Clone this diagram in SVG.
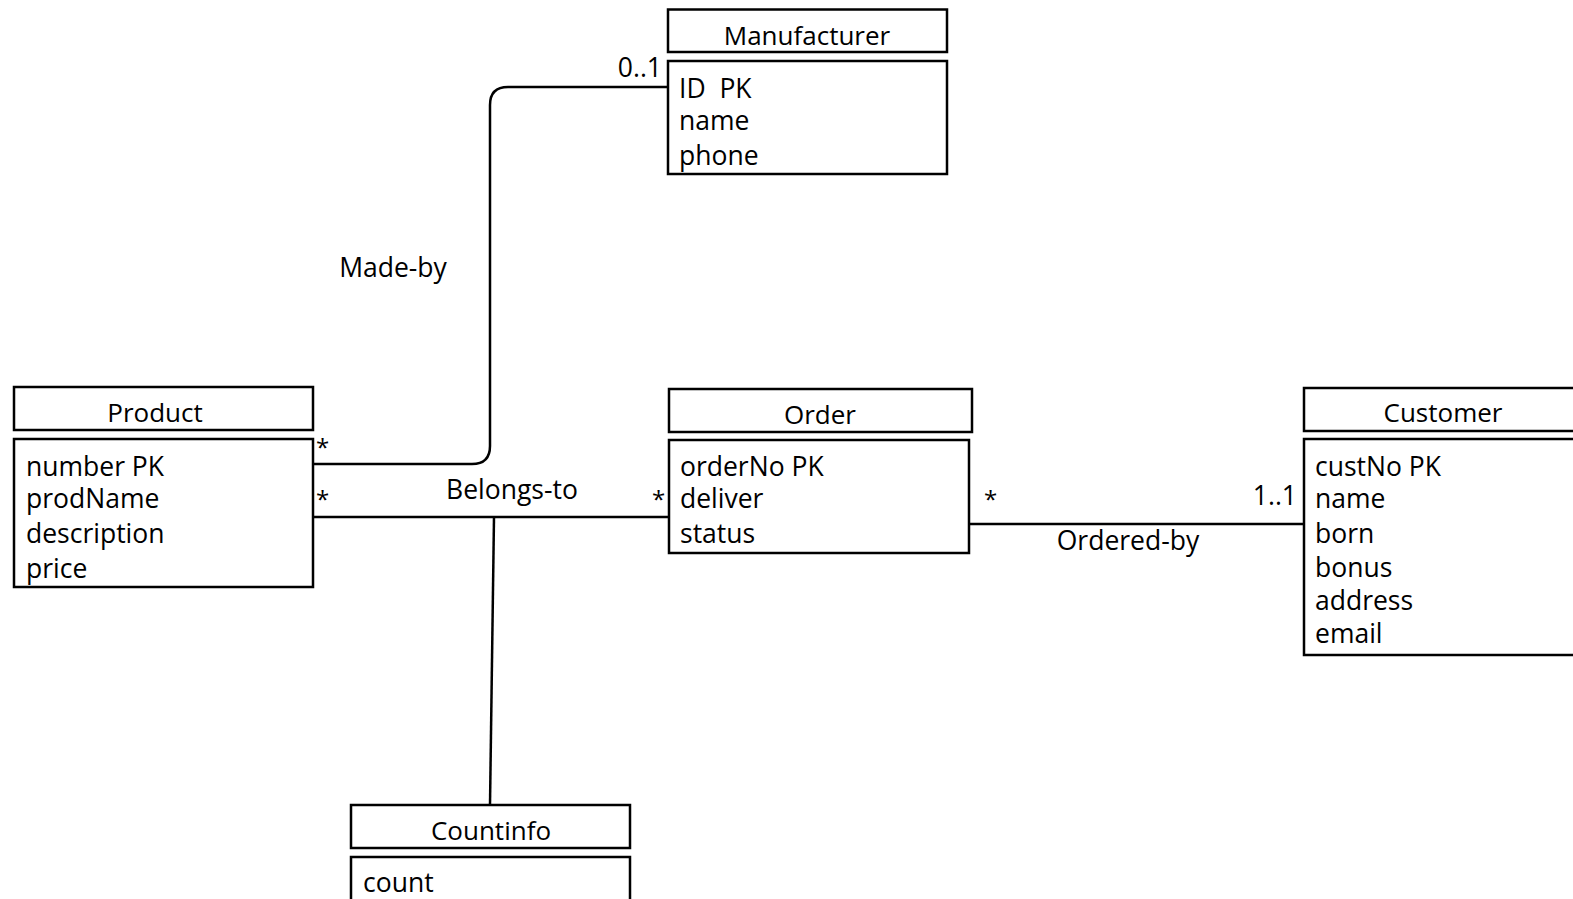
<svg xmlns="http://www.w3.org/2000/svg" width="1573" height="899" viewBox="0 0 1573 899">
  <style>
    .box { fill: #ffffff; stroke: #000000; stroke-width: 2.5; }
    .line { fill: none; stroke: #000000; stroke-width: 2.5; }
    text { font-family: "Open Sans", Lato, "Liberation Sans", sans-serif; fill: #000000; white-space: pre; }
    .title { font-size: 26px; text-anchor: middle; }
    .attr { font-size: 26.5px; }
    .lbl { font-size: 26.5px; }
    .star { font-size: 24px; }
    .mid { text-anchor: middle; }
    .end { text-anchor: end; }
  </style>
  <rect x="0" y="0" width="1573" height="899" fill="#ffffff"/>

  <!-- associations -->
  <g id="connectors">
    <!-- Made-by: Product to Manufacturer -->
    <path class="line" d="M313,464 H472 Q490,464 490,446 V105 Q490,87 508,87 H668"/>
    <!-- Belongs-to: Product to Order -->
    <path class="line" d="M313,517 H669"/>
    <!-- association class link to Countinfo -->
    <path class="line" d="M494,517 L490,805"/>
    <!-- Ordered-by: Order to Customer -->
    <path class="line" d="M969,524 H1304"/>

    <text class="lbl mid" x="393" y="277">Made-by</text>
    <text class="lbl end" x="662" y="77">0..1</text>
    <text class="star" x="316" y="456">*</text>
    <text class="star" x="316" y="508">*</text>
    <text class="lbl mid" x="512" y="499">Belongs-to</text>
    <text class="star" x="652" y="508">*</text>
    <text class="star" x="984" y="508">*</text>
    <text class="lbl end" x="1297" y="505">1..1</text>
    <text class="lbl mid" x="1128" y="550">Ordered-by</text>
  </g>

  <g id="manufacturer">
    <rect class="box" x="668" y="9.5" width="279" height="42.5"/>
    <text class="title" x="807" y="45">Manufacturer</text>
    <rect class="box" x="668" y="61" width="279" height="113"/>
    <text class="attr" x="679" y="98">ID  PK</text>
    <text class="attr" x="679" y="130">name</text>
    <text class="attr" x="679" y="165">phone</text>
  </g>

  <g id="product">
    <rect class="box" x="14" y="387" width="299" height="43"/>
    <text class="title" x="155" y="422">Product</text>
    <rect class="box" x="14" y="439" width="299" height="148"/>
    <text class="attr" x="26" y="476">number PK</text>
    <text class="attr" x="26" y="508">prodName</text>
    <text class="attr" x="26" y="543">description</text>
    <text class="attr" x="26" y="578">price</text>
  </g>

  <g id="order">
    <rect class="box" x="669" y="389" width="303" height="43"/>
    <text class="title" x="820" y="424">Order</text>
    <rect class="box" x="669" y="440" width="300" height="113"/>
    <text class="attr" x="680" y="476">orderNo PK</text>
    <text class="attr" x="680" y="508">deliver</text>
    <text class="attr" x="680" y="543">status</text>
  </g>

  <g id="customer">
    <rect class="box" x="1304" y="388" width="280" height="43"/>
    <text class="title" x="1443" y="422">Customer</text>
    <rect class="box" x="1304" y="439" width="280" height="216"/>
    <text class="attr" x="1315" y="476">custNo PK</text>
    <text class="attr" x="1315" y="508">name</text>
    <text class="attr" x="1315" y="543">born</text>
    <text class="attr" x="1315" y="577">bonus</text>
    <text class="attr" x="1315" y="610">address</text>
    <text class="attr" x="1315" y="643">email</text>
  </g>

  <g id="countinfo">
    <rect class="box" x="351" y="805" width="279" height="43"/>
    <text class="title" x="491" y="840">Countinfo</text>
    <rect class="box" x="351" y="857" width="279" height="60"/>
    <text class="attr" x="363" y="892">count</text>
  </g>
</svg>
